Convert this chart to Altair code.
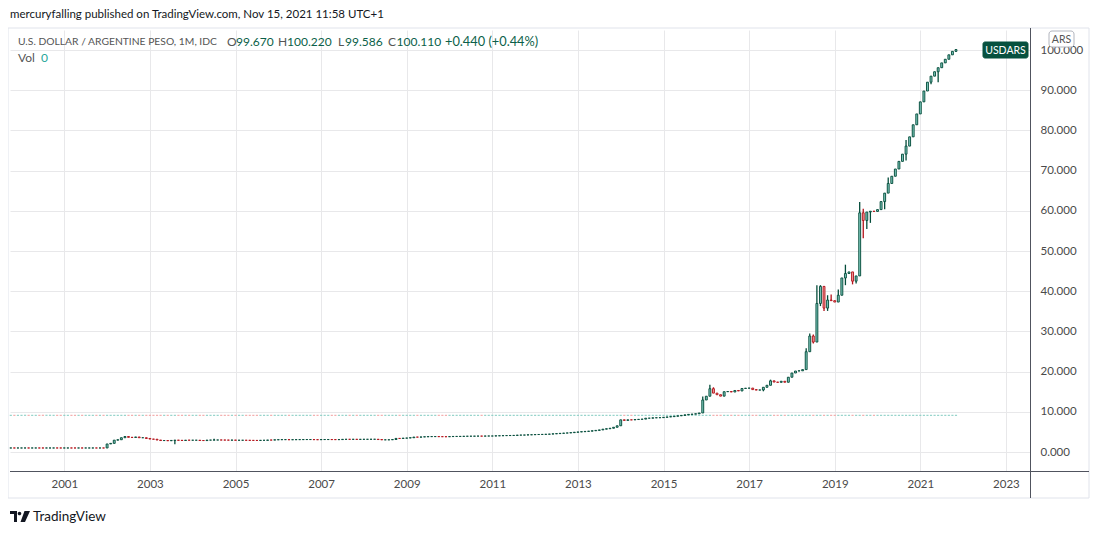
import altair as alt
import pandas as pd

# ---------------- data (monthly USD/ARS) ----------------
closes_1999 = [1.0001, 0.9999, 1.0]  # Oct-Dec
closes_2000 = [1.0002, 1.0003, 0.9999, 1.0001, 1.0002, 1.0, 0.9998, 0.9999, 1.0, 1.0001, 0.9999, 0.9998]
closes_2001 = [1.0, 1.0001, 0.9999, 0.9998, 1.0, 0.9999, 1.0, 1.0001, 1.0002, 1.0, 1.0001, 1.0]
closes_2002 = [2.0, 2.15, 2.95, 3.05, 3.55, 3.85, 3.65, 3.62, 3.74, 3.55, 3.55, 3.37]
closes_2003 = [3.22, 3.18, 2.98, 2.85, 2.85, 2.80, 2.88, 2.95, 2.91, 2.86, 2.95, 2.93]
closes_2004 = [2.93, 2.93, 2.86, 2.84, 2.96, 2.96, 2.98, 2.99, 2.98, 2.97, 2.95, 2.97]
closes_2005 = [2.92, 2.92, 2.92, 2.91, 2.89, 2.88, 2.87, 2.91, 2.91, 2.98, 2.97, 3.03]
closes_2006 = [3.07, 3.08, 3.08, 3.05, 3.07, 3.08, 3.08, 3.10, 3.10, 3.10, 3.07, 3.06]
closes_2007 = [3.10, 3.10, 3.10, 3.09, 3.08, 3.09, 3.15, 3.16, 3.15, 3.16, 3.14, 3.15]
closes_2008 = [3.16, 3.16, 3.17, 3.17, 3.10, 3.03, 3.03, 3.04, 3.11, 3.38, 3.37, 3.45]
closes_2009 = [3.48, 3.55, 3.72, 3.70, 3.74, 3.79, 3.83, 3.84, 3.84, 3.82, 3.81, 3.80]
closes_2010 = [3.84, 3.87, 3.87, 3.88, 3.91, 3.93, 3.93, 3.95, 3.96, 3.95, 3.98, 3.98]
closes_2011 = [3.98, 4.02, 4.05, 4.08, 4.09, 4.11, 4.13, 4.20, 4.21, 4.23, 4.27, 4.30]
closes_2012 = [4.35, 4.36, 4.38, 4.42, 4.46, 4.52, 4.58, 4.64, 4.70, 4.75, 4.82, 4.92]
closes_2013 = [4.98, 5.05, 5.12, 5.19, 5.28, 5.38, 5.50, 5.68, 5.79, 5.91, 6.15, 6.52]
closes_2014 = [8.00, 7.87, 8.00, 7.99, 8.08, 8.13, 8.18, 8.41, 8.42, 8.50, 8.53, 8.55]
closes_2015 = [8.64, 8.72, 8.80, 8.90, 9.00, 9.09, 9.24, 9.36, 9.42, 9.51, 9.71, 12.94]
closes_2016 = [13.88, 15.75, 14.65, 14.25, 13.90, 15.00, 15.05, 14.92, 15.30, 15.18, 15.80, 15.88]
closes_2017 = [15.90, 15.52, 15.40, 15.44, 16.10, 16.60, 17.70, 17.40, 17.33, 17.60, 17.35, 18.60]
closes_2018 = [19.65, 20.15, 20.20, 20.50, 24.95, 28.85, 27.35, 36.95, 41.20, 35.80, 37.80, 37.65]
closes_2019 = [37.30, 39.00, 43.30, 44.40, 44.80, 42.50, 43.80, 59.50, 57.60, 59.70, 59.90, 59.85]
closes_2020 = [60.30, 62.30, 64.40, 66.80, 68.60, 70.40, 72.30, 74.10, 76.10, 78.40, 81.40, 84.10]
closes_2021 = [87.10, 89.80, 92.00, 93.50, 94.60, 95.60, 96.80, 97.70, 98.80, 99.67, 100.11]  # Jan-Nov

first_open = 1.0

wick_high = {
    "2002-06": 3.95, "2004-07": 3.3, "2015-12": 13.8, "2016-02": 16.7, "2016-03": 16.1,
    "2017-07": 18.0, "2018-05": 25.8, "2018-06": 29.5, "2018-07": 29.2, "2018-08": 41.5,
    "2018-09": 41.5, "2018-10": 41.3, "2018-11": 39.0, "2018-12": 39.2, "2019-02": 40.4,
    "2019-04": 46.6, "2019-08": 62.2, "2019-09": 60.5, "2020-04": 68.3, "2020-09": 77.6,
    "2021-11": 100.22,
}
wick_low = {
    "2003-08": 1.95, "2017-05": 15.1, "2018-07": 27.0, "2018-09": 36.3, "2018-10": 35.1,
    "2018-11": 35.1, "2019-04": 41.5, "2019-06": 41.7, "2019-07": 41.9, "2019-09": 53.2,
    "2019-10": 55.5, "2019-11": 57.0, "2020-03": 60.4, "2020-09": 72.5, "2021-04": 91.5,
    "2021-06": 92.0, "2021-11": 99.586,
}

year_tick_labels = [str(y) for y in range(2001, 2024, 2)]
price_ticks = [0, 10, 20, 30, 40, 50, 60, 70, 80, 90, 100]

series = [
    (1999, 10, closes_1999), (2000, 1, closes_2000), (2001, 1, closes_2001), (2002, 1, closes_2002),
    (2003, 1, closes_2003), (2004, 1, closes_2004), (2005, 1, closes_2005), (2006, 1, closes_2006),
    (2007, 1, closes_2007), (2008, 1, closes_2008), (2009, 1, closes_2009), (2010, 1, closes_2010),
    (2011, 1, closes_2011), (2012, 1, closes_2012), (2013, 1, closes_2013), (2014, 1, closes_2014),
    (2015, 1, closes_2015), (2016, 1, closes_2016), (2017, 1, closes_2017), (2018, 1, closes_2018),
    (2019, 1, closes_2019), (2020, 1, closes_2020), (2021, 1, closes_2021),
]

rows = []
prev = first_open
for yr, m0, vals in series:
    for k, c in enumerate(vals):
        m = m0 + k
        key = f"{yr}-{m:02d}"
        o = prev
        hi = wick_high.get(key, max(o, c))
        lo = wick_low.get(key, min(o, c))
        rows.append({
            "idx": (yr - 2001) * 12 + (m - 1),
            "open": o, "close": c, "high": hi, "low": lo,
            "bt": max(o, c), "bb": min(o, c),
            "dir": "up" if c >= o else "down",
        })
        prev = c
df = pd.DataFrame(rows)

# ---------------- style ----------------
GREEN = "#044c3a"
RED = "#b3121a"
FONT = "Lato"
W, H = 1020, 441
xscale = alt.Scale(domain=[-15.224, 270.75], nice=False, zero=False)
yscale = alt.Scale(domain=[-4.726, 104.98], nice=False, zero=False)
dirscale = alt.Scale(domain=["up", "down"], range=[GREEN, RED])

x_axis = alt.Axis(
    title="", values=[(int(y) - 2001) * 12 for y in year_tick_labels],
    labelExpr="'' + (2001 + datum.value / 12)", grid=True, gridColor="#e8e8ea",
    domain=False, ticks=False, labelPadding=7, labelFontSize=11.5, labelColor="#4a4a4a",
    labelFont=FONT)

y_axis = alt.Axis(
    title="", orient="right", values=price_ticks, format=".3f", grid=True,
    gridColor="#e8e8ea", domain=False, ticks=False, labelPadding=10,
    labelFontSize=11.5, labelColor="#4a4a4a", labelFont=FONT, labelAlign="left")

base = alt.Chart(df)

bodies = base.transform_calculate(x0="datum.idx - 0.27", x1="datum.idx + 0.27").mark_rect(
    strokeWidth=0.9).encode(
    x=alt.X("x0:Q", scale=xscale, axis=x_axis), x2="x1:Q",
    y=alt.Y("bt:Q", scale=yscale, axis=y_axis), y2="bb:Q",
    fill=alt.Color("dir:N", scale=dirscale, legend=None),
    stroke=alt.Color("dir:N", scale=dirscale, legend=None))

wicks = base.mark_rule(strokeWidth=1.3).encode(
    x=alt.X("idx:Q", scale=xscale), y=alt.Y("low:Q", scale=yscale), y2="high:Q",
    color=alt.Color("dir:N", scale=dirscale, legend=None))

vol = base.transform_calculate(v0="datum.idx - 0.3", v1="datum.idx + 0.3").mark_rect().encode(
    x=alt.X("v0:Q", scale=xscale), x2="v1:Q", y=alt.value(384.8), y2=alt.value(385.8),
    fill=alt.Fill("dir:N", scale=alt.Scale(domain=["up", "down"], range=["#7fcabf", "#f09c9c"]), legend=None))

one = alt.Data(values=[{}])

def txt(t, x, y, color, size=12, align="left", weight="normal"):
    return alt.Chart(one).mark_text(text=t, align=align, baseline="middle", fontSize=size,
                                    font=FONT, color=color, fontWeight=weight).encode(
        x=alt.value(x), y=alt.value(y))

def box(x, x2, y, y2, fill, stroke, radius=0, opacity=1):
    return alt.Chart(one).mark_rect(fill=fill, stroke=stroke, strokeWidth=1, cornerRadius=radius,
                                    fillOpacity=opacity).encode(
        x=alt.value(x), x2=alt.value(x2), y=alt.value(y), y2=alt.value(y2))

frame = box(-2, 1079, -2, 468, "#ffffff", "#e0e3eb", opacity=0)
xline = alt.Chart(one).mark_rule(color="#50535e", strokeWidth=1).encode(
    x=alt.value(0), x2=alt.value(1079), y=alt.value(441.5))
yline = alt.Chart(one).mark_rule(color="#50535e", strokeWidth=1).encode(
    x=alt.value(1020.5), y=alt.value(-2), y2=alt.value(468))

LG = "#0b5f49"
texts = [
    txt("mercuryfalling published on TradingView.com, Nov 15, 2021 11:58 UTC+1", 0, -15.5, "#131722", 11.5),
    txt("U.S. DOLLAR / ARGENTINE PESO, 1M, IDC", 8, 12, "#555555", 10.3),
    txt("O", 217, 12, "#555555"), txt("99.670", 226, 12, LG),
    txt("H", 268, 12, "#555555"), txt("100.220", 277, 12, LG),
    txt("L", 328, 12, "#555555"), txt("99.586", 335, 12, LG),
    txt("C", 378, 12, "#555555"), txt("100.110", 386.5, 12, LG),
    txt("+0.440 (+0.44%)", 435, 12, LG, size=12.8),
    txt("Vol", 8, 28, "#555555"), txt("0", 31, 28, "#26a69a"),
    box(973, 1018, 12, 28, "#07513f", "#07513f", radius=2),
    txt("USDARS", 995.5, 20.5, "#ffffff", 10.5, align="center"),
    box(1039, 1064, 1, 17, "#ffffff", "#b2b5be", radius=3),
    txt("ARS", 1051.5, 9.5, "#555555", 10.5, align="center"),
    txt("TradingView", 23, 487, "#131722", 13.5),
]

logo_path = ("M-1,-0.55 L-0.3,-0.55 L-0.3,0.55 L-0.6,0.55 L-0.6,-0.25 L-1,-0.25 Z "
             "M-0.23,-0.3 A0.18,0.18 0 1,0 0.13,-0.3 A0.18,0.18 0 1,0 -0.23,-0.3 Z "
             "M0.45,-0.55 L1,-0.55 L0.5,0.55 L0.05,0.55 Z")
logo = alt.Chart(one).mark_point(shape=logo_path, filled=True, color="#131722", opacity=1,
                                 size=400, strokeWidth=0).encode(x=alt.value(10), y=alt.value(486.5))

chart = alt.layer(frame, vol, wicks, bodies, xline, yline, logo, *texts).properties(
    width=W, height=H,
    autosize=alt.AutoSizeParams(type="none"),
    padding={"left": 2, "top": 22, "right": 62, "bottom": 54},
    background="#ffffff",
).configure_view(strokeWidth=0)

chart.save("out.html", embed_options={"renderer": "svg", "actions": False})
